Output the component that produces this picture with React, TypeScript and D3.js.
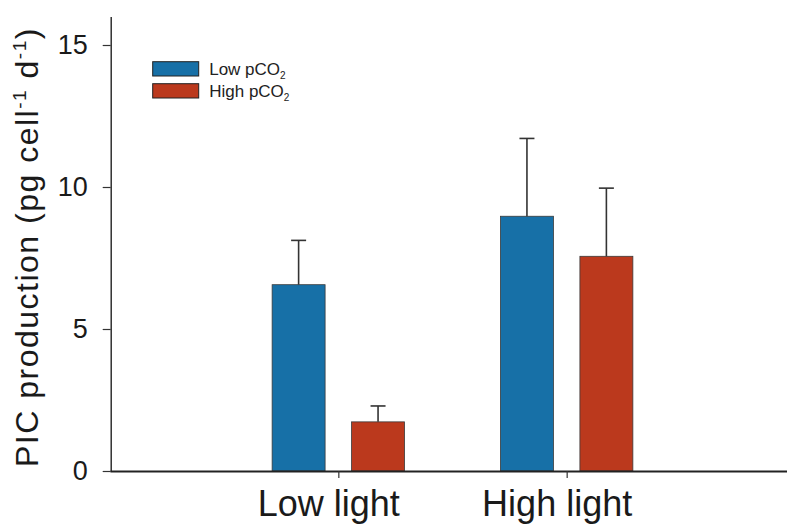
import * as d3 from 'd3';
import React, { useRef, useEffect } from 'react';

const categories = ['Low light', 'High light'];
const series = ['Low pCO2', 'High pCO2'];
const lowPco2 = [6.56, 8.97];
const highPco2 = [1.73, 7.56];
const lowPco2Err = [1.56, 2.74];
const highPco2Err = [0.56, 2.4];
const yTicks = [0, 5, 10, 15];
const colors = ['#1770a7', '#bb391d'];

const FONT = '"Liberation Sans", Arial, Helvetica, sans-serif';

function Chart({ width, height }) {
  const ref = useRef(null);

  useEffect(() => {
    draw();
  }, []);

  const draw = () => {
    const svg = d3.select(ref.current);
    svg.selectAll('*').remove();

    const y = d3.scaleLinear().domain([0, 16]).range([471, 16.6]);
    const x0 = d3.scalePoint().domain(categories).range([110, 795]).padding(1);
    const x1 = d3.scaleBand().domain(series).range([-66.2, 66.2]).paddingInner(1 / 3);

    const values = [lowPco2, highPco2];
    const errs = [lowPco2Err, highPco2Err];
    const rows = [];
    series.forEach((s, si) => {
      categories.forEach((c, ci) => {
        rows.push({ s, c, si, v: values[si][ci], e: errs[si][ci] });
      });
    });

    // bars
    svg
      .append('g')
      .selectAll('rect')
      .data(rows)
      .enter()
      .append('rect')
      .attr('x', d => x0(d.c) + x1(d.s))
      .attr('y', d => y(d.v))
      .attr('width', x1.bandwidth())
      .attr('height', d => y(0) - y(d.v))
      .attr('fill', d => colors[d.si])
      .attr('stroke', '#3a3a3a')
      .attr('stroke-width', 0.8);

    // error bars (upper only)
    const eb = svg.append('g').attr('stroke', '#333').attr('stroke-width', 1.6);
    rows.forEach(d => {
      const cx = x0(d.c) + x1(d.s) + x1.bandwidth() / 2;
      eb.append('line')
        .attr('x1', cx).attr('x2', cx)
        .attr('y1', y(d.v)).attr('y2', y(d.v + d.e));
      eb.append('line')
        .attr('x1', cx - 7.5).attr('x2', cx + 7.5)
        .attr('y1', y(d.v + d.e)).attr('y2', y(d.v + d.e));
    });

    // x axis
    const xAxis = d3.axisBottom(x0).tickSizeInner(7).tickSizeOuter(0).tickPadding(12);
    const gx = svg.append('g').attr('transform', `translate(0,${y(0)})`).call(xAxis);
    gx.select('.domain').attr('stroke', '#222').attr('stroke-width', 1.8);
    gx.selectAll('.tick line').attr('stroke', '#333').attr('stroke-width', 1.2);
    gx.selectAll('.tick text')
      .attr('fill', '#1a1a1a')
      .attr('dx', -10)
      .style('font-family', FONT)
      .style('font-size', '36px');

    // y axis
    const yAxis = d3.axisLeft(y).tickValues(yTicks).tickSizeInner(8).tickSizeOuter(0).tickPadding(15);
    const gy = svg.append('g').attr('transform', 'translate(110.7,0)').call(yAxis);
    gy.select('.domain').attr('stroke', '#222').attr('stroke-width', 1.4);
    gy.selectAll('.tick line').attr('stroke', '#333').attr('stroke-width', 1.2);
    gy.selectAll('.tick text')
      .attr('fill', '#1a1a1a')
      .style('font-family', FONT)
      .style('font-size', '27px');

    // y title
    const title = svg
      .append('text')
      .attr('transform', 'translate(38,467) rotate(-90)')
      .attr('fill', '#1a1a1a')
      .style('font-family', FONT)
      .style('font-size', '32px')
      .style('letter-spacing', '1.5px');
    title.append('tspan').text('PIC production (pg cell');
    title.append('tspan').attr('dy', -12).style('font-size', '19px').text('-1');
    title.append('tspan').attr('dy', 12).text(' d');
    title.append('tspan').attr('dy', -12).style('font-size', '19px').text('-1');
    title.append('tspan').attr('dy', 12).text(')');

    // legend
    const lg = svg.append('g').attr('transform', 'translate(152.7,61.7)');
    series.forEach((s, i) => {
      const row = lg.append('g').attr('transform', `translate(0,${i * 22})`);
      row.append('rect')
        .attr('width', 46)
        .attr('height', 14.3)
        .attr('fill', colors[i])
        .attr('stroke', '#222')
        .attr('stroke-width', 1);
      const t = row.append('text')
        .attr('x', 56.5)
        .attr('y', 13.5)
        .attr('fill', '#222')
        .style('font-family', FONT)
        .style('font-size', '17px');
      t.append('tspan').text(s.replace('2', ''));
      t.append('tspan').attr('dy', 4).style('font-size', '10px').text('2');
    });
  };

  return (
    <svg
      ref={ref}
      width={width}
      height={height}
      style={{ position: 'absolute', left: 0, top: 0, background: '#fff' }}
    />
  );
}

export default function App() {
  return <Chart width={787} height={526} />;
}
